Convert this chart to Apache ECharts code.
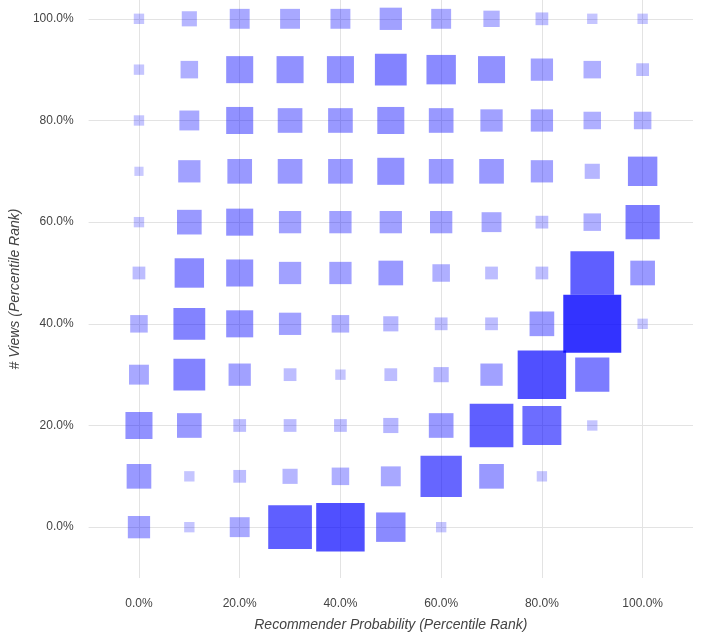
<!DOCTYPE html>
<html><head><meta charset="utf-8">
<script src="https://cdn.jsdelivr.net/npm/echarts@6/dist/echarts.min.js"></script>
<style>html,body{margin:0;background:#fff}#c{width:712px;height:637px}</style>
</head><body><div id="c"></div>
<script>
// percentile bins (fraction)
var xBins = [0, 0.1, 0.2, 0.3, 0.4, 0.5, 0.6, 0.7, 0.8, 0.9, 1.0];
var yBins = [0, 0.1, 0.2, 0.3, 0.4, 0.5, 0.6, 0.7, 0.8, 0.9, 1.0];
var tickValues = [0, 0.2, 0.4, 0.6, 0.8, 1.0];
// cell weights, one row per yBin (bottom to top), 0 = empty
var row00 = [20, 10, 18, 38, 42, 26, 10, 0, 0, 0, 0];
var row10 = [22, 10, 12, 14, 16, 18, 36, 22, 10, 0, 0];
var row20 = [24, 22, 12, 12, 12, 14, 22, 38, 34, 10, 0];
var row30 = [18, 28, 20, 12, 10, 12, 14, 20, 42, 30, 0];
var row40 = [16, 28, 24, 20, 16, 14, 12, 12, 22, 50, 10];
var row50 = [12, 26, 24, 20, 20, 22, 16, 12, 12, 38, 22];
var row60 = [10, 22, 24, 20, 20, 20, 20, 18, 12, 16, 30];
var row70 = [9, 20, 22, 22, 22, 24, 22, 22, 20, 14, 26];
var row80 = [10, 18, 24, 22, 22, 24, 22, 20, 20, 16, 16];
var row90 = [10, 16, 24, 24, 24, 28, 26, 24, 20, 16, 12];
var row100 = [10, 14, 18, 18, 18, 20, 18, 15, 12, 10, 10];
var rows = [row00, row10, row20, row30, row40, row50, row60, row70, row80, row90, row100];

var data = [];
rows.forEach(function (r, yi) {
  r.forEach(function (v, xi) {
    if (v > 0) data.push([xBins[xi], yBins[yi], v]);
  });
});

var pct = function (v) { return (v * 100).toFixed(1) + '%'; };
var lab = { color: '#444', fontSize: 12, fontFamily: 'Liberation Sans', formatter: pct };
var nm = { color: '#444', fontSize: 14, fontStyle: 'italic', fontFamily: 'Liberation Sans' };

var chart = echarts.init(document.getElementById('c'));
chart.setOption({
  animation: false,
  grid: { left: 82, right: 19, top: 0, bottom: 58 },
  visualMap: {
    show: false, dimension: 2, min: 8, max: 50,
    inRange: { symbolSize: [8, 58], colorAlpha: [0.25, 1] }
  },
  xAxis: {
    type: 'value', min: -0.1, max: 1.1,
    name: 'Recommender Probability (Percentile Rank)', nameLocation: 'middle', nameGap: 40, nameTextStyle: nm,
    axisLine: { show: false }, axisTick: { show: false, customValues: tickValues },
    axisLabel: Object.assign({ customValues: tickValues, margin: 20 }, lab),
    splitLine: { lineStyle: { color: '#e3e3e3' } }
  },
  yAxis: {
    type: 'value', min: -0.1, max: 1.037,
    name: '# Views (Percentile Rank)', nameLocation: 'middle', nameGap: 62, nameTextStyle: nm,
    axisLine: { show: false }, axisTick: { show: false, customValues: tickValues },
    axisLabel: Object.assign({ customValues: tickValues, margin: 15 }, lab),
    splitLine: { lineStyle: { color: '#e3e3e3' } }
  },
  series: [{
    type: 'scatter', symbol: 'rect', data: data,
    itemStyle: { color: '#0000ff' }
  }]
});
</script></body></html>
